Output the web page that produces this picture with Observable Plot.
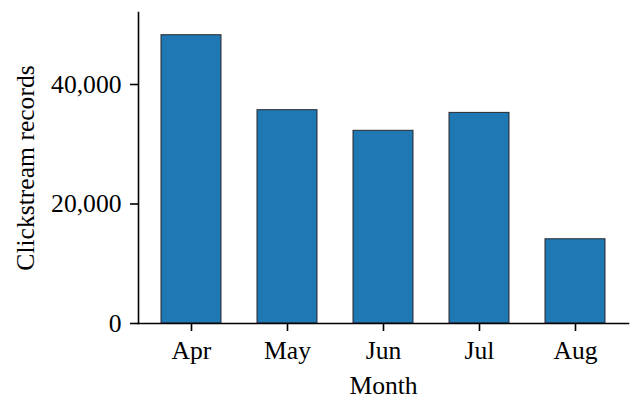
<!DOCTYPE html>
<html>
<head>
<meta charset="utf-8">
<script src="https://cdn.jsdelivr.net/npm/d3@7"></script>
<script src="https://cdn.jsdelivr.net/npm/@observablehq/plot@0.6"></script>
<style>
  html, body { margin: 0; padding: 0; background: #fff; }
  #chart { width: 637px; height: 402px; }
</style>
</head>
<body>
<div id="chart"></div>
<script>
const months = ["Apr", "May", "Jun", "Jul", "Aug"];
const records = [48250, 35700, 32250, 35250, 14100];
const yTicks = [0, 20000, 40000];

const data = months.map((m, i) => ({month: m, value: records[i]}));

const chart = Plot.plot({
  width: 637,
  height: 402,
  marginLeft: 138,
  marginRight: 9,
  marginTop: 12,
  marginBottom: 79,
  style: {fontFamily: "Liberation Serif", fontSize: "25.6px", color: "#000", background: "#fff"},
  x: {domain: months, paddingInner: 0.378, paddingOuter: 0.228},
  y: {domain: [0, 52050]},
  marks: [
    Plot.barY(data, {x: "month", y: "value", fill: "#1f77b4", stroke: "#2b2b2b", strokeWidth: 1}),
    Plot.frame({anchor: "left", stroke: "#000", strokeWidth: 1.6}),
    Plot.frame({anchor: "bottom", stroke: "#000", strokeWidth: 1.6}),
    Plot.axisY({ticks: yTicks, tickFormat: d3.format(","), tickSize: 8, tickPadding: 9, strokeWidth: 1.6,
      label: "Clickstream records", labelAnchor: "center", labelArrow: "none", labelOffset: 123}),
    Plot.axisX({tickSize: 8, tickPadding: 9, strokeWidth: 1.6,
      label: "Month", labelAnchor: "center", labelArrow: "none", labelOffset: 70})
  ]
});
document.getElementById("chart").appendChild(chart);
</script>
</body>
</html>
